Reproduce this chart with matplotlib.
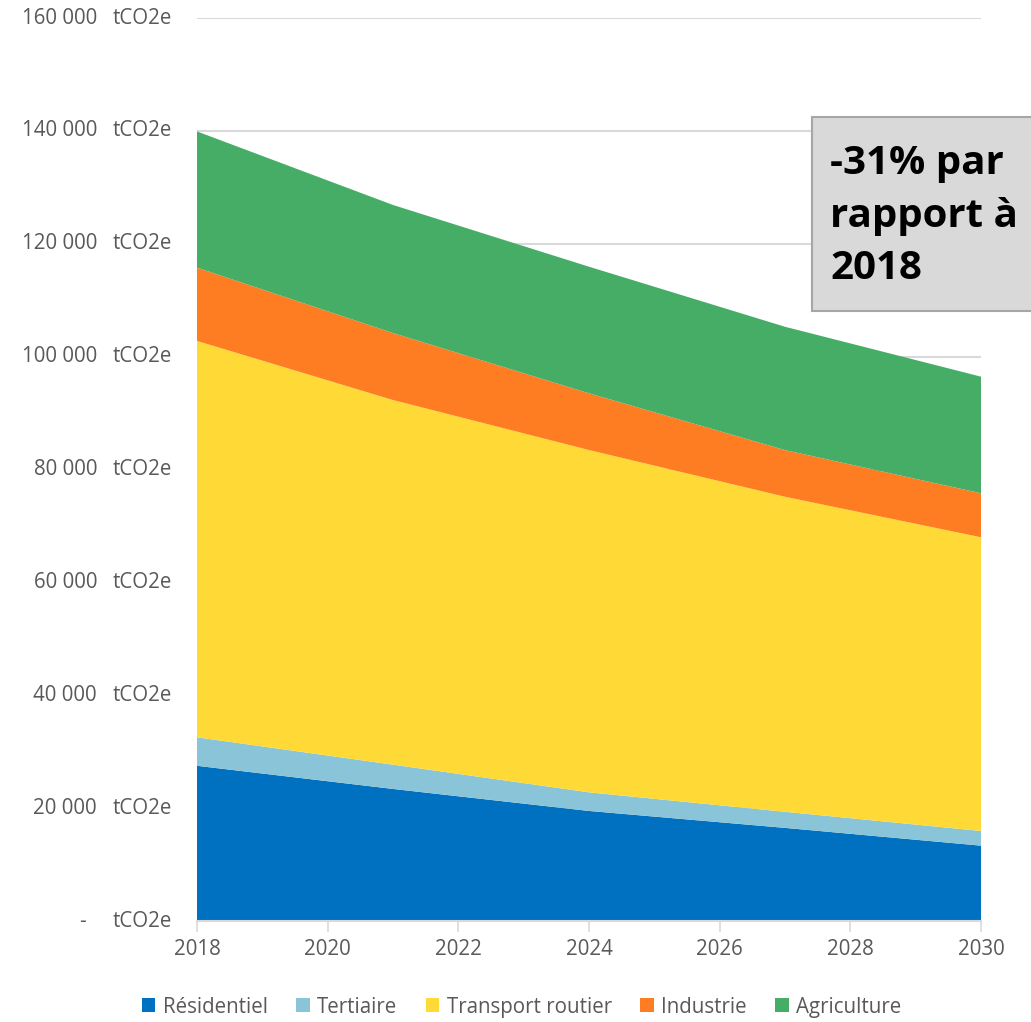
import matplotlib
matplotlib.use("Agg")
import matplotlib.pyplot as plt
from matplotlib.patches import Patch, Rectangle

plt.rcParams['font.family'] = ['Open Sans', 'DejaVu Sans']

# émissions (tCO2e)
annees = [2018, 2021, 2024, 2027, 2030]
residentiel = [27500, 23400, 19500, 16500, 13350]
tertiaire = [5050, 4300, 3300, 2850, 2600]
transport = [70230, 64610, 60650, 55820, 52040]
industrie = [12990, 11870, 10050, 8270, 7800]
agriculture = [24130, 22690, 22430, 21850, 20660]

series = ["Résidentiel", "Tertiaire", "Transport routier", "Industrie", "Agriculture"]
couleurs = ["#0070C0", "#89C4D8", "#FFDA37", "#FE7D23", "#46AD66"]

y_ticks = [0, 20000, 40000, 60000, 80000, 100000, 120000, 140000, 160000]
x_ticks = [2018, 2020, 2022, 2024, 2026, 2028, 2030]

gris = "#595959"
fs = 14.8
fig = plt.figure(figsize=(10.31, 10.22), dpi=100)
ax = fig.add_axes([197 / 1031, 1 - 921 / 1022, 784 / 1031, 903 / 1022])

ax.stackplot(annees, residentiel, tertiaire, transport, industrie, agriculture,
             colors=couleurs, linewidth=0, zorder=2)

ax.set_xlim(2018, 2030)
ax.set_ylim(0, 160000)
ax.set_xticks(x_ticks)
ax.set_xticklabels([str(a) for a in x_ticks], fontsize=fs, color=gris)
ax.tick_params(axis='x', length=8, width=1.2, color="#D9D9D9", pad=5)
ax.set_yticks(y_ticks)
ax.set_yticklabels([])
ax.tick_params(axis='y', length=0)
ax.grid(axis='y', color="#D9D9D9", linewidth=1.5, zorder=0)
ax.set_axisbelow(True)
for s in ["left", "right", "top"]:
    ax.spines[s].set_visible(False)
ax.spines["bottom"].set_color("#D9D9D9")
ax.spines["bottom"].set_linewidth(1.5)

# étiquettes de l'axe y, format comptable d'Excel
for v in y_ticks:
    if v == 0:
        ax.annotate("-", xy=(0, v), xycoords=('axes fraction', 'data'),
                    xytext=(-80, 0), textcoords='offset points',
                    ha='right', va='center', fontsize=fs, color=gris)
    else:
        txt = "{:,}".format(v).replace(",", " ")
        ax.annotate(txt, xy=(0, v), xycoords=('axes fraction', 'data'),
                    xytext=(-72, 0), textcoords='offset points',
                    ha='right', va='center', fontsize=fs, color=gris)
    ax.annotate("tCO2e", xy=(0, v), xycoords=('axes fraction', 'data'),
                xytext=(-61, 0), textcoords='offset points',
                ha='left', va='center', fontsize=fs, color=gris)

# encadré
fig.patches.append(Rectangle((812 / 1031, 1 - 311 / 1022), 0.25, 194 / 1022,
                             transform=fig.transFigure, facecolor="#D9D9D9",
                             edgecolor="#A6A6A6", linewidth=1.5, zorder=5))
fig.text(830 / 1031, 1 - 216 / 1022, "-31% par\nrapport à\n2018",
         fontsize=29, fontweight='bold', color="black", ha='left', va='center',
         linespacing=1.45, zorder=6)

handles = [Patch(facecolor=c) for c in couleurs]
fig.legend(handles, series, loc='center', bbox_to_anchor=(0.506, 1 - 1007 / 1022),
           ncol=5, frameon=False, fontsize=fs, labelcolor=gris,
           handlelength=0.65, handleheight=0.65, handletextpad=0.35,
           columnspacing=1.4)

fig.savefig("out.png", dpi=100)
